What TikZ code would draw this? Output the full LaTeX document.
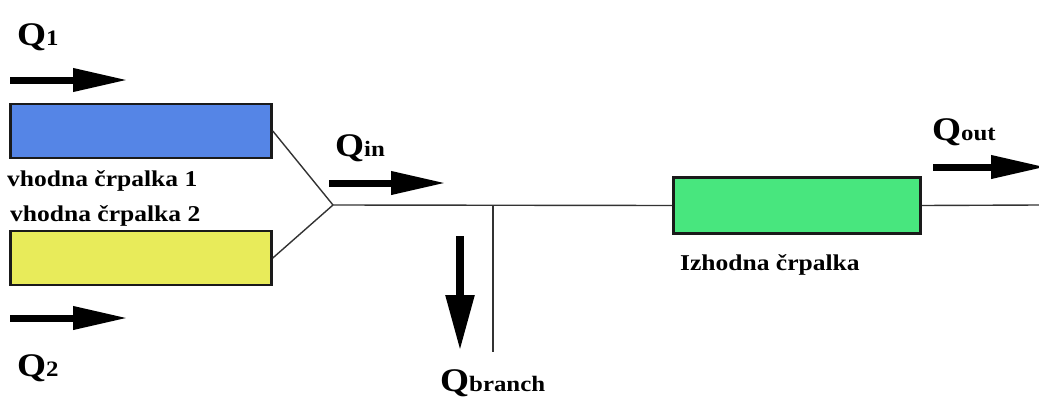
\documentclass[tikz,border=0pt]{standalone}
\usepackage{fontspec}
\setmainfont{Liberation Serif}
\newfontfamily\lblfont[FakeStretch=1.13]{Liberation Serif}
\usetikzlibrary{arrows.meta}
\definecolor{pumpblue}{HTML}{5585E6}
\definecolor{pumpyellow}{HTML}{E8EB5A}
\definecolor{pumpgreen}{HTML}{48E67E}
\definecolor{edge}{HTML}{1A1A1A}
\definecolor{pipe}{HTML}{333333}
\newcommand{\flowlabel}[2]{{\fontsize{33}{33}\selectfont Q}{\fontsize{22}{22}\selectfont #2}}
\tikzset{
  pump/.style={draw=edge, line width=2.6pt, rectangle, inner sep=0pt,
    minimum width=261pt, minimum height=54pt},
  pipeline/.style={draw=pipe, line width=1.4pt},
  flow/.style={line width=7pt, -{Triangle[length=55pt, width=22pt]}},
  qtext/.style={anchor=base west, inner sep=0pt, font=\lblfont\bfseries},
  ptext/.style={anchor=base west, inner sep=0pt, font=\lblfont\bfseries\fontsize{22.6}{22.6}\selectfont},
}
\begin{document}
\begin{tikzpicture}[x=1pt, y=-1pt]
\useasboundingbox (0,0) rectangle (1039,399);

% pumps
\node[pump, fill=pumpblue]   (p1) at (141,131) {};
\node[pump, fill=pumpyellow] (p2) at (141,258) {};
\node[pump, fill=pumpgreen, minimum width=247pt, minimum height=56pt] (p3) at (797,205.5) {};

% pipework
\coordinate (j)  at (333,205);
\coordinate (bt) at (493,205);
\coordinate (bb) at (493,352);
\coordinate (oe) at (1039,205);
\draw[pipeline] (p1.east) -- (j);
\draw[pipeline] (p2.east) -- (j);
\draw[pipeline] (j) -- (p3.west);
\draw[pipeline] (p3.east) -- (oe);
\draw[pipeline] (bt) -- (bb);

% flow arrows
\coordinate (f1s) at (10,80);   \coordinate (f1e) at (128,80);
\coordinate (f2s) at (10,318);  \coordinate (f2e) at (128,318);
\coordinate (fis) at (329,183); \coordinate (fie) at (446,183);
\coordinate (fbs) at (460,236); \coordinate (fbe) at (460,351);
\coordinate (fos) at (933,167); \coordinate (foe) at (1046,167);
\draw[flow] (f1s) -- (f1e);
\draw[flow] (f2s) -- (f2e);
\draw[flow] (fis) -- (fie);
\draw[flow, -{Triangle[length=56pt, width=27pt]}, line width=8.5pt] (fbs) -- (fbe);
\draw[flow] (fos) -- (foe);

% flow labels
\node[qtext] (q1) at (17,45)  {\flowlabel{Q}{1}};
\node[qtext] (q2) at (17,376) {\flowlabel{Q}{2}};
\node[qtext] (qi) at (335,156) {\flowlabel{Q}{in}};
\node[qtext] (qb) at (440,391) {\flowlabel{Q}{branch}};
\node[qtext] (qo) at (932,140) {\flowlabel{Q}{out}};

% pump labels
\node[ptext] (l1) at (7,186)   {vhodna črpalka 1};
\node[ptext] (l2) at (10,221)  {vhodna črpalka 2};
\node[ptext] (l3) at (680,270) {Izhodna črpalka};
\end{tikzpicture}
\end{document}
